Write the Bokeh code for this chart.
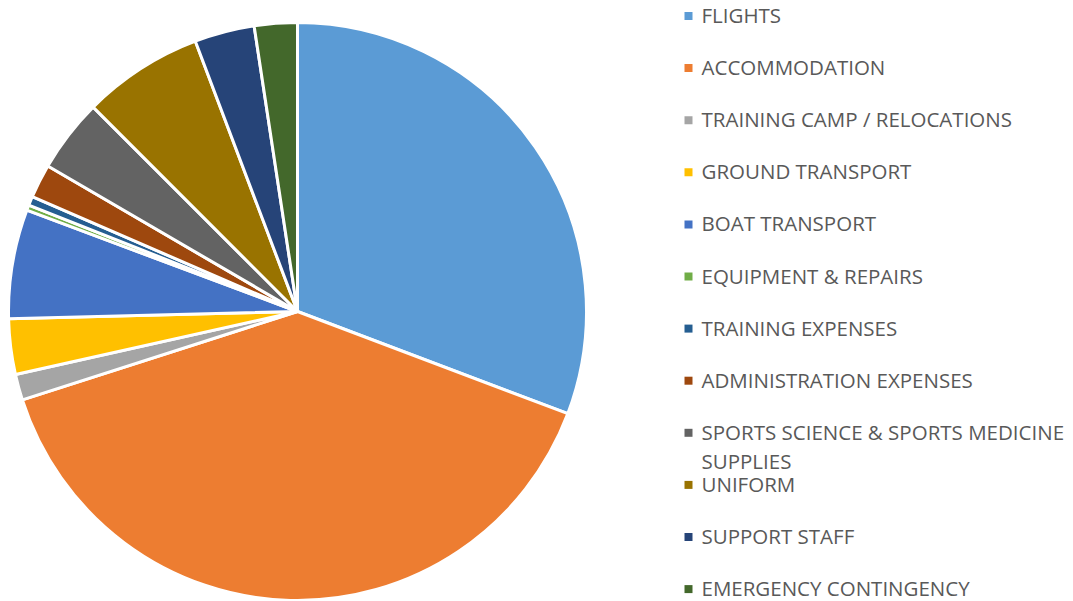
import math
from bokeh.plotting import figure
from bokeh.models import ColumnDataSource, Range1d
from bokeh.core.properties import value
from bokeh.embed import file_html
from bokeh.resources import INLINE

# ---- data ----
categories = [
    "FLIGHTS",
    "ACCOMMODATION",
    "TRAINING CAMP / RELOCATIONS",
    "GROUND TRANSPORT",
    "BOAT TRANSPORT",
    "EQUIPMENT & REPAIRS",
    "TRAINING EXPENSES",
    "ADMINISTRATION EXPENSES",
    "SPORTS SCIENCE & SPORTS MEDICINE SUPPLIES",
    "UNIFORM",
    "SUPPORT STAFF",
    "EMERGENCY CONTINGENCY",
]
shares = [30.75, 39.3, 1.45, 3.1, 6.1, 0.3, 0.5, 1.9, 4.1, 6.75, 3.35, 2.4]
colors = ["#5B9BD5", "#ED7D31", "#A5A5A5", "#FFC000", "#4472C4", "#70AD47",
          "#255E91", "#9E480E", "#636363", "#997300", "#264478", "#43682B"]

# ---- layout ----
W, H = 1073, 601
cx, cy, R = 297, 290, 289
leg_x, leg_step = 688, 52.1
marker_top = H - 15.5      # data y of first legend marker
text_top = H - 14.5        # data y of first legend text centre
text_dx = 13
font_px = "20.5px"

total = sum(shares)
starts, ends = [], []
cum = 0.0
for s in shares:
    starts.append(math.pi / 2 - cum / total * 2 * math.pi)
    cum += s
    ends.append(math.pi / 2 - cum / total * 2 * math.pi)

pie = ColumnDataSource(dict(cat=categories, val=shares, color=colors,
                            start=starts, end=ends,
                            x=[cx] * len(shares), y=[cy] * len(shares)))

p = figure(width=W, height=H, output_backend="svg", toolbar_location=None,
           x_range=Range1d(0, W), y_range=Range1d(0, H), min_border=0)
p.axis.visible = False
p.grid.visible = False
p.outline_line_color = None
p.background_fill_color = "white"

p.wedge(x="x", y="y", radius=R, start_angle="start", end_angle="end",
        direction="clock", fill_color="color", line_color="white",
        line_width=3, source=pie)

# legend
lx, my, ty, lt, lc = [], [], [], [], []
for i, (c, col) in enumerate(zip(categories, colors)):
    lx.append(leg_x)
    my.append(marker_top - i * leg_step)
    ty.append(text_top - i * leg_step)
    lc.append(col)
    if c.startswith("SPORTS SCIENCE"):
        lt.append("SPORTS SCIENCE & SPORTS MEDICINE")
    else:
        lt.append(c)

leg = ColumnDataSource(dict(x=lx, my=my, ty=ty, t=lt, c=lc,
                            tx=[v + text_dx for v in lx]))
p.scatter(x="x", y="my", marker="square", size=8, fill_color="c",
          line_color=None, source=leg)
p.text(x="tx", y="ty", text="t", text_font=value("Open Sans"),
       text_font_size=font_px, text_color="#595959", text_baseline="middle",
       source=leg)
# wrapped second line of the long label
i_ss = [i for i, c in enumerate(categories) if c.startswith("SPORTS SCIENCE")][0]
p.text(x=[lx[i_ss] + text_dx], y=[ty[i_ss] - 29], text=["SUPPLIES"],
       text_font=value("Open Sans"), text_font_size=font_px,
       text_color="#595959", text_baseline="middle")

open("out.html", "w").write(file_html(p, INLINE))
